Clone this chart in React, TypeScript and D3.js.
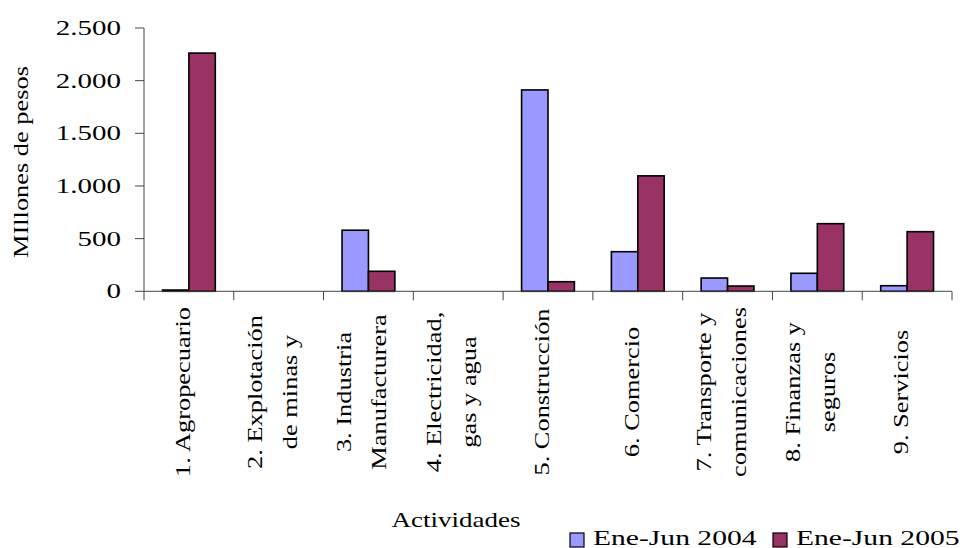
import React from "react";
import * as d3 from "d3";

const categories: string[][] = [
  ["1. Agropecuario"],
  ["2. Explotación", "de minas y"],
  ["3. Industria", "Manufacturera"],
  ["4. Electricidad,", "gas y agua"],
  ["5. Construcción"],
  ["6. Comercio"],
  ["7. Transporte y", "comunicaciones"],
  ["8. Finanzas y", "seguros"],
  ["9. Servicios"],
];
const series2004: number[] = [12, 0, 580, 0, 1912, 376, 126, 171, 53];
const series2005: number[] = [2262, 0, 190, 0, 91, 1096, 50, 642, 566];
const seriesNames: string[] = ["Ene-Jun 2004", "Ene-Jun 2005"];
const colors: string[] = ["#9999FF", "#993366"];
const yTicks: number[] = [0, 500, 1000, 1500, 2000, 2500];

const W = 965;
const H = 548;
const left = 144;
const right = 952;
const top = 28;
const bottom = 291.3;
const FONT = "'Liberation Serif', 'Times New Roman', serif";

function SText(props: {
  x: number;
  y: number;
  rotate?: number;
  sx: number;
  size: number;
  anchor: "start" | "middle" | "end";
  dy?: string;
  children: React.ReactNode;
}) {
  const { x, y, rotate = 0, sx, size, anchor, dy, children } = props;
  return (
    <g transform={`translate(${x},${y}) rotate(${rotate}) scale(${sx},1)`}>
      <text x={0} y={0} dy={dy} textAnchor={anchor} fontSize={size} fill="#000">
        {children}
      </text>
    </g>
  );
}

export default function App() {
  const x = d3
    .scaleBand<number>()
    .domain(categories.map((_, i) => i))
    .range([left, right])
    .paddingInner(0)
    .paddingOuter(0);
  const bw = x.bandwidth();
  const barW = bw / (2 + 1.4);
  const y = d3.scaleLinear().domain([0, 2500]).range([bottom, top]);
  const fmt = (v: number) => d3.format(",")(v).replace(/,/g, ".");

  const series = [series2004, series2005];

  return (
    <svg
      width={W}
      height={H}
      style={{ position: "absolute", left: 0, top: 0, background: "#fff" }}
      fontFamily={FONT}
    >
      {/* bars */}
      {categories.map((_, i) => {
        const x0 = (x(i) as number) + barW * 0.7;
        return series.map((s, k) => {
          const v = s[i];
          if (!v) return null;
          const yy = y(v);
          return (
            <rect
              key={`${i}-${k}`}
              x={x0 + k * barW}
              y={yy}
              width={barW}
              height={Math.max(bottom - yy, 0.5)}
              fill={colors[k]}
              stroke="#000"
              strokeWidth={1.6}
            />
          );
        });
      })}

      {/* y axis */}
      <line x1={left} x2={left} y1={top} y2={bottom} stroke="#444" strokeWidth={1} />
      {yTicks.map((t) => (
        <g key={t}>
          <line x1={left - 9} x2={left} y1={y(t)} y2={y(t)} stroke="#444" strokeWidth={1} />
          <SText x={121} y={y(t)} dy="0.34em" anchor="end" size={21} sx={1.38}>
            {fmt(t)}
          </SText>
        </g>
      ))}

      {/* x axis */}
      <line x1={left} x2={right} y1={bottom} y2={bottom} stroke="#444" strokeWidth={1} />
      {d3.range(categories.length + 1).map((i) => {
        const xx = i < categories.length ? (x(i) as number) : right;
        return (
          <line key={i} x1={xx} x2={xx} y1={bottom} y2={bottom + 9} stroke="#444" strokeWidth={1} />
        );
      })}

      {/* category labels */}
      {categories.map((lines, i) => {
        const cx = (x(i) as number) + bw / 2;
        const cy = 392;
        return lines.map((ln, j) => {
          const off = lines.length === 1 ? 1 : j === 0 ? -17 : 18;
          return (
            <SText key={`${i}-${j}`} x={cx + off} y={cy} rotate={-90} anchor="middle" size={20} sx={1.32}>
              {ln}
            </SText>
          );
        });
      })}

      {/* axis titles */}
      <SText x={456} y={527} anchor="middle" size={20} sx={1.35}>
        Actividades
      </SText>
      <SText x={28} y={162} rotate={-90} anchor="middle" size={20} sx={1.32}>
        MIllones de pesos
      </SText>

      {/* legend */}
      {seriesNames.map((n, k) => {
        const lx = k === 0 ? 570 : 773;
        return (
          <g key={n}>
            <rect x={lx} y={533} width={14} height={14} fill={colors[k]} stroke="#000" strokeWidth={1.2} />
            <SText x={lx + 23} y={545} anchor="start" size={20} sx={1.48}>
              {n}
            </SText>
          </g>
        );
      })}
    </svg>
  );
}
